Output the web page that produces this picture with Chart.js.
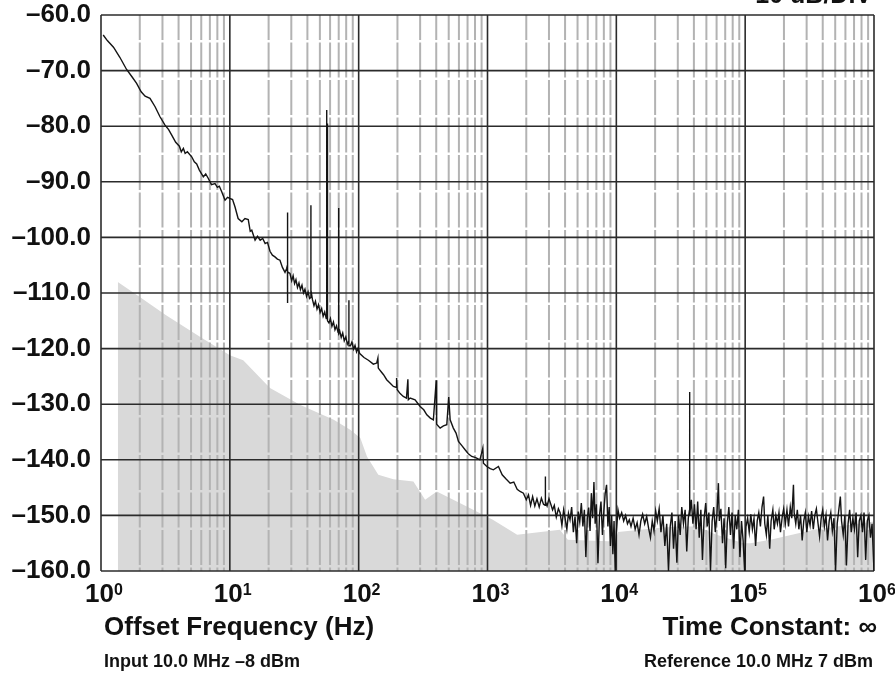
<!DOCTYPE html>
<html>
<head>
<meta charset="utf-8">
<title>Phase noise</title>
<script src="https://cdn.jsdelivr.net/npm/chart.js@4.4.1/dist/chart.umd.min.js"></script>
<style>
  html, body { margin: 0; padding: 0; background: #fff; }
  canvas { display: block; }
</style>
</head>
<body>
<canvas id="noiseChart" width="895" height="675" style="width:895px;height:675px"></canvas>
<script>
/* 측정 트레이스 [Hz, dBc/Hz] */
const noiseTrace = [
  [1.04,-63.6],[1.12,-64.6],[1.25,-65.8],[1.4,-67.6],[1.58,-69.8],[1.75,-71.2],[1.89,-72.3],[2.05,-73.8],
  [2.2,-74.6],[2.4,-75.0],[2.63,-76.5],[2.87,-78.3],[3.14,-79.8],[3.35,-80.6],[3.54,-81.6],[3.8,-82.9],
  [4.06,-83.6],[4.2,-84.6],[4.36,-84.0],[4.5,-84.9],[4.68,-84.6],[5.06,-85.5],[5.3,-86.4],[5.53,-86.8],
  [5.8,-87.9],[6.23,-89.1],[6.5,-88.6],[6.81,-89.4],[7.2,-90.5],[7.67,-90.3],[8.0,-91.0],[8.29,-90.8],
  [8.65,-91.8],[9.18,-93.3],[9.6,-92.8],[10,-93.0],[10.5,-93.2],[10.96,-94.5],[11.6,-96.6],[12.4,-97.2],
  [13.1,-96.6],[13.9,-96.8],[14.4,-98.9],[14.8,-98.7],[15.7,-100.5],[16.4,-99.8],[17.2,-100.5],[18.0,-100.2],
  [18.8,-101.1],[19.6,-100.9],[20.5,-102.5],[21.4,-103.2],[22.4,-103.5],[23.4,-103.9],[24.5,-104.1],
  [25.6,-105.4],[26.8,-106.3],[27.6,-105.6],
  [28.0,-105.0],[28.0,-95.5],[28.0,-111.8],[28.2,-106.2],
  [29.3,-106.5],[30.2,-107.8],[31,-106.9],[31.8,-108.3],[32.6,-107.6],[33.5,-109.0],[34.4,-108.2],
  [35.3,-109.4],[36.3,-108.6],[37.3,-110.0],[38.3,-109.3],[39.4,-110.6],[40.5,-109.8],[41.6,-111.0],
  [42.6,-110.8],[42.6,-94.2],[42.6,-109.5],
  [43.8,-111.2],[45,-112.3],[46.2,-111.5],[47.5,-112.9],[48.8,-112.1],[50.2,-113.5],[51.6,-112.8],
  [53,-114.2],[54.5,-113.4],[56,-114.6],
  [56.5,-114.0],[56.5,-77.1],[56.5,-113.2],[57.3,-114.8],[57.3,-79.5],[57.3,-115.0],
  [58.8,-115.4],[60.4,-114.6],[62,-116.0],[63.7,-115.2],[65.5,-116.6],[67.3,-115.9],[69.2,-117.1],
  [70,-115.4],[70,-94.7],[70,-117.2],
  [71.2,-116.8],[73.2,-118.0],[75.2,-117.2],[77.3,-118.6],[79.5,-117.9],[81.7,-119.2],
  [84,-118.6],[84,-111.3],[84,-119.5],
  [86.3,-119.5],[88.7,-118.8],[91.2,-120.1],[93.7,-119.4],[96.3,-120.6],[99,-119.9],[102,-120.9],
  [110,-121.6],[119,-122.1],[130,-122.8],[138,-122.6],[141,-121.7],[142,-123.5],[150,-124.2],
  [156,-124.7],[165,-125.6],[175,-126.2],[186,-126.8],[197,-127.0],[197,-125.3],[199,-127.4],
  [210,-128.1],[222,-128.6],[235,-128.9],[241,-125.5],[243,-129.2],[251,-128.9],[274,-129.2],
  [300,-130.4],[320,-131.0],[338,-131.9],[360,-132.5],[380,-132.8],[400,-125.7],[403,-133.6],
  [429,-134.3],[455,-133.9],[483,-133.7],[500,-128.7],[513,-132.8],[543,-134.3],[570,-135.2],
  [595,-136.7],[630,-137.4],[670,-138.2],[710,-138.9],[755,-139.4],[810,-139.6],[873,-140.0],
  [920,-137.9],[930,-140.6],[988,-141.2],[1050,-141.6],[1110,-141.8],[1216,-141.2],[1300,-142.7],
  [1400,-143.5],[1500,-144.2],[1600,-144.0],[1700,-145.3],[1790,-145.7],[1900,-146.0],[2000,-147.2],
  [2080,-146.3],[2160,-148.2],[2240,-146.6],[2330,-148.3],[2420,-147.0],[2520,-148.5],[2620,-146.9],
  [2720,-148.0],[2800,-148.2],[2800,-143.0],[2830,-147.5],[2900,-148.3],[3000,-147.0],[3100,-148.0],
  [3200,-149.0],[3300,-148.2],[3420,-150.3],[3550,-148.8],[3660,-149.5],[3780,-151.8],[3900,-149.0],
  [4000,-150.5],[4130,-152.5],[4250,-149.6],[4370,-150.8],[4500,-148.5],[4640,-153.0],[4780,-150.2],
  [4920,-155.0],[5060,-149.3],[5200,-151.2],[5350,-147.8],[5500,-152.0],[5650,-149.0],[5800,-157.5],
  [5950,-150.5],[6100,-148.6],[6250,-152.8],[6400,-146.0],[6550,-150.5],[6700,-144.0],[6850,-151.5],
  [7000,-148.0],[7200,-158.6],[7400,-150.0],[7600,-147.5],[7800,-153.5],[8000,-149.2],[8200,-146.0],
  [8400,-144.5],[8600,-152.0],[8800,-148.5],[9000,-155.5],[9200,-150.0],[9400,-157.0],[9600,-151.0],
  [9800,-160.0],[10000,-153.0],
  [10300,-149.0],[10600,-150.5],[11000,-149.5],[11400,-151.0],[11800,-150.0],[12200,-151.5],
  [12600,-150.8],[13000,-152.0],[13500,-150.5],[14000,-152.5],[14500,-151.3],[15000,-153.5],
  [15500,-151.0],[16000,-149.8],[16600,-151.5],[17200,-150.2],[17800,-152.3],[18400,-154.0],
  [19000,-151.0],[19600,-152.8],[20200,-149.2],[20800,-151.0],[21500,-148.8],[22200,-153.0],
  [23000,-150.0],[23800,-155.5],[24600,-151.5],[25400,-160.0],[26200,-152.0],[27000,-149.5],
  [27800,-156.0],[28600,-151.0],[29500,-158.5],[30400,-150.0],[31300,-153.5],[32200,-148.5],
  [33200,-151.5],[34200,-149.0],[35200,-156.5],[36200,-150.5],[37000,-149.0],[37000,-127.8],
  [37200,-150.0],[38200,-147.2],[39300,-151.5],[40400,-148.0],[41600,-152.5],[42800,-147.5],
  [44000,-154.0],[45300,-149.0],[46600,-158.0],[48000,-150.5],[49400,-147.8],[50800,-152.0],
  [52300,-149.5],[53800,-160.0],[55400,-151.0],[57000,-148.5],[58600,-153.0],[60300,-150.0],
  [62000,-144.2],[63000,-151.0],[64800,-148.8],[66700,-155.0],[68600,-150.5],[70600,-159.5],
  [72600,-151.5],[74700,-148.5],[76900,-153.5],[79100,-149.5],[81400,-156.0],[83700,-150.0],
  [86100,-152.5],[88600,-149.0],[91100,-157.5],[93700,-151.0],[96400,-154.5],[99000,-160.0],
  [101500,-152.0],[104500,-150.5],[107500,-153.0],[110600,-149.8],[113800,-152.5],[117100,-150.6],
  [120500,-155.5],[124000,-151.0],[127600,-149.5],[131300,-152.0],[135100,-148.5],[139000,-146.6],
  [142000,-151.5],[146000,-153.5],[150000,-150.0],[155000,-156.0],[159000,-151.0],[164000,-149.0],
  [168000,-152.5],[173000,-150.0],[178000,-151.5],[183000,-149.5],[188000,-153.0],[194000,-150.2],
  [199000,-148.8],[205000,-151.5],[211000,-149.0],[217000,-152.0],[224000,-148.5],[230000,-150.5],
  [237000,-144.5],[240000,-149.5],[247000,-151.5],[254000,-149.0],[261000,-152.5],[269000,-150.0],
  [277000,-154.5],[285000,-151.0],[293000,-149.5],[301000,-153.0],[310000,-150.2],[319000,-151.8],
  [328000,-149.2],[338000,-152.5],[347000,-150.0],[357000,-148.8],[368000,-151.5],[378000,-153.8],
  [389000,-150.5],[400000,-149.0],[412000,-152.0],[424000,-150.0],[436000,-154.5],[449000,-151.0],
  [462000,-149.5],[475000,-152.8],[489000,-150.5],[503000,-160.0],[518000,-151.5],[533000,-149.0],
  [548000,-146.6],[560000,-151.0],[577000,-153.5],[594000,-150.0],[611000,-159.0],[629000,-151.5],
  [647000,-149.0],[666000,-153.0],[685000,-150.5],[705000,-152.5],[726000,-149.5],[747000,-157.5],
  [768000,-151.0],[791000,-150.0],[814000,-153.0],[837000,-149.5],[862000,-158.0],[887000,-151.0],
  [913000,-150.0],[939000,-154.0],[966000,-151.5],[1000000,-160.0]
];

/* 회색 영역 (시스템 노이즈 플로어) */
const floorTrace = [
  [1.35,-160],[1.35,-108],[2.0,-110.7],[3.2,-114],[5.9,-117.9],[10,-121.2],[12.7,-122.1],
  [20.5,-127.1],[35,-130.1],[64,-132.8],[86,-134.6],[103,-136.1],[116,-139.4],[142,-142.7],
  [186,-143.5],[266,-143.9],[328,-147.2],[404,-145.7],[690,-148.4],[1100,-150.8],[1700,-153.5],
  [3650,-152.6],[4200,-154.4],[9800,-154.7],[10300,-153.0],[22000,-152.2],
  [31000,-152.0],[42000,-152.0],[60000,-153.5],[97000,-155.0],[110000,-155.0],[157000,-154.4],
  [340000,-152.6],[1000000,-151.1]
];

const yMin = -160, yMax = -60, yStep = 10;
const decadeExponents = ['0', '1', '2', '3', '4', '5', '6'];
const minorSteps = [2, 3, 4, 5, 6, 7, 8, 9];

const bigFont = '"Liberation Sans", Arial, sans-serif';

/* 격자: 회색 영역 위, 트레이스 아래 */
const gridPlugin = {
    id: 'logGrid',
    afterDatasetDraw(chart, args) {
        if (args.index !== 1) return;
        const { ctx, chartArea: a, scales: { x, y } } = chart;
        ctx.save();
        ctx.strokeStyle = '#b3b3b3';
        ctx.lineWidth = 2;
        ctx.setLineDash([35, 2.5]);
        ctx.lineDashOffset = 10;
        for (let d = 0; d < decadeExponents.length - 1; d++) {
            minorSteps.forEach(m => {
                const px = x.getPixelForValue(m * Math.pow(10, d));
                ctx.beginPath();
                ctx.moveTo(px, a.top);
                ctx.lineTo(px, a.bottom);
                ctx.stroke();
            });
        }
        ctx.setLineDash([]);
        ctx.strokeStyle = '#2b2b2b';
        ctx.lineWidth = 1.6;
        decadeExponents.forEach((e, d) => {
            const px = x.getPixelForValue(Math.pow(10, d));
            ctx.beginPath();
            ctx.moveTo(px, a.top);
            ctx.lineTo(px, a.bottom);
            ctx.stroke();
        });
        for (let v = yMin; v <= yMax; v += yStep) {
            const py = y.getPixelForValue(v);
            ctx.beginPath();
            ctx.moveTo(a.left, py);
            ctx.lineTo(a.right, py);
            ctx.stroke();
        }
        ctx.restore();
    }
};

/* 축 라벨, 하단 텍스트 */
const textPlugin = {
    id: 'labels',
    afterDraw(chart) {
        const { ctx, scales: { x } } = chart;
        ctx.save();
        ctx.fillStyle = '#111';
        ctx.textBaseline = 'alphabetic';

        decadeExponents.forEach((e, d) => {
            const px = x.getPixelForValue(Math.pow(10, d));
            ctx.font = 'bold 26px ' + bigFont;
            ctx.textAlign = 'left';
            ctx.fillText('10', px - 16, 602);
            const w = ctx.measureText('10').width;
            ctx.font = 'bold 16px ' + bigFont;
            ctx.fillText(e, px - 16 + w, 595);
        });

        ctx.font = 'bold 26px ' + bigFont;
        ctx.textAlign = 'left';
        ctx.fillText('Offset Frequency (Hz)', 104, 635);
        ctx.textAlign = 'right';
        ctx.fillText('Time Constant: \u221E', 877, 635);

        ctx.font = 'bold 18px ' + bigFont;
        ctx.textAlign = 'left';
        ctx.fillText('Input 10.0 MHz \u20138 dBm', 104, 667);
        ctx.textAlign = 'right';
        ctx.fillText('Reference 10.0 MHz 7 dBm', 873, 667);

        ctx.font = 'bold 25px ' + bigFont;
        ctx.fillText('10 dB/DIV', 872, 3);
        ctx.restore();
    }
};

const ctx = document.getElementById('noiseChart').getContext('2d');

new Chart(ctx, {
    type: 'line',
    data: {
        datasets: [{
            label: 'Phase noise',
            data: noiseTrace.map(p => ({ x: p[0], y: p[1] })),
            borderColor: '#141414',
            borderWidth: 1.4,
            pointRadius: 0,
            tension: 0,
            fill: false,
            order: 1
        }, {
            label: 'Floor',
            data: floorTrace.map(p => ({ x: p[0], y: p[1] })),
            borderWidth: 0,
            borderColor: 'rgba(0,0,0,0)',
            backgroundColor: '#d9d9d9',
            pointRadius: 0,
            tension: 0,
            fill: 'start',
            order: 2
        }]
    },
    options: {
        responsive: false,
        animation: false,
        devicePixelRatio: 1,
        layout: { padding: { left: 0, top: 15, right: 21, bottom: 0 } },
        plugins: {
            legend: { display: false },
            tooltip: { enabled: false }
        },
        scales: {
            x: {
                type: 'logarithmic',
                min: 1,
                max: 1000000,
                grid: { display: false, drawTicks: false },
                border: { display: false },
                ticks: { display: false },
                afterFit: function(scale) { scale.height = 104; }
            },
            y: {
                type: 'linear',
                min: yMin,
                max: yMax,
                grid: { display: false, drawTicks: false },
                border: { display: false },
                ticks: {
                    stepSize: yStep,
                    padding: 10,
                    color: '#111',
                    font: { family: bigFont, size: 26, weight: 'bold', lineHeight: 1 },
                    callback: function(v) { return '\u2013' + Math.abs(v).toFixed(1); }
                },
                afterFit: function(scale) {
                    scale.width = 101;
                    scale.paddingTop = 0;
                    scale.paddingBottom = 0;
                }
            }
        }
    },
    plugins: [gridPlugin, textPlugin]
});
</script>
</body>
</html>
